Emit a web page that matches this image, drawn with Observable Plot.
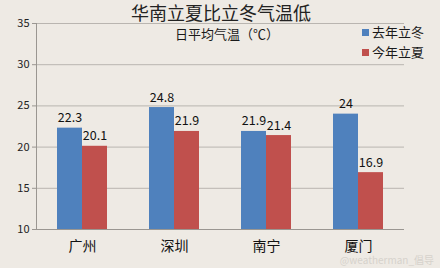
<!DOCTYPE html>
<html>
<head>
<meta charset="utf-8">
<script src="https://cdn.jsdelivr.net/npm/d3@7"></script>
<script src="https://cdn.jsdelivr.net/npm/@observablehq/plot@0.6"></script>
<style>
  html, body { margin: 0; padding: 0; background: #EEEAE4; }
  #wrap { position: relative; width: 440px; height: 268px; overflow: hidden; font-family: "Noto Sans CJK SC", "Noto Sans", sans-serif; background: #EEEAE4; }
  #wrap svg { position: absolute; left: 0; top: 0; }
  .ov { position: absolute; white-space: nowrap; color: #1a1a1a; font-weight: 400; }
  #title { left: 0; width: 440px; top: 3px; text-align: center; font-size: 18px; line-height: 19px; padding-left: 2px; box-sizing: border-box; color: #222; }
  #sub { left: 0; width: 440px; top: 27px; text-align: center; font-size: 13px; line-height: 14px; padding-left: 14px; box-sizing: border-box; }
  .lg { left: 362px; font-size: 13px; line-height: 16px; }
  .sw { display: inline-block; width: 7px; height: 7px; margin-right: 3px; vertical-align: 1px; }
  #wm { right: 6px; top: 254px; font-size: 10px; line-height: 11px; color: #d6d2cc; }
</style>
</head>
<body>
<div id="wrap"></div>
<script>
const cities = ["广州", "深圳", "南宁", "厦门"];
const series = ["去年立冬", "今年立夏"];
const lastWinter = [22.3, 24.8, 21.9, 24];
const thisSummer = [20.1, 21.9, 21.4, 16.9];
const yTicks = [10, 15, 20, 25, 30, 35];
const colors = ["#4F81BD", "#C0504D"];
const title = "华南立夏比立冬气温低";
const subtitle = "日平均气温（℃）";
const watermark = "@weatherman_倡导";

const data = [];
cities.forEach((c, i) => {
  data.push({city: c, series: series[0], value: lastWinter[i]});
  data.push({city: c, series: series[1], value: thisSummer[i]});
});

const chart = Plot.plot({
  width: 440,
  height: 268,
  marginLeft: 34,
  marginRight: 35,
  marginTop: 23,
  marginBottom: 39,
  style: {background: "#EEEAE4", fontFamily: "'Noto Sans CJK SC', sans-serif", color: "#222"},
  fx: {domain: cities, padding: 0, label: null},
  x: {domain: series, paddingInner: 0, paddingOuter: 0.78, axis: null},
  y: {domain: [10, 35], ticks: yTicks, label: null},
  color: {domain: series, range: colors},
  marks: [
    Plot.ruleY(yTicks.slice(1), {stroke: "#b9b5b0", strokeWidth: 1}),
    Plot.barY(data, {fx: "city", x: "series", y1: 10, y2: "value", fill: "series"}),
    Plot.text(data, {fx: "city", x: "series", y: "value", text: d => String(d.value), lineAnchor: "bottom", dy: -6, fontSize: 12.5, fill: "#111"}),
    Plot.ruleY([10], {stroke: "#9a9691"}),
    Plot.frame({anchor: "left", facetAnchor: "left", stroke: "#9a9691"}),
    Plot.axisY({ticks: yTicks, tickSize: 4, tickPadding: 3, fontSize: 11, label: null, stroke: "#9a9691", color: "#222"}),
    Plot.axisFx({anchor: "bottom", tickSize: 0, tickPadding: 12, fontSize: 14, label: null, color: "#111"})
  ]
});
const wrap = document.getElementById("wrap");
wrap.appendChild(chart);

function ov(id, cls, html, style) {
  const d = document.createElement("div");
  if (id) d.id = id;
  d.className = "ov " + (cls || "");
  d.innerHTML = html;
  if (style) Object.assign(d.style, style);
  wrap.appendChild(d);
}
ov("title", "", title);
ov("sub", "", subtitle);
series.forEach((s, i) => {
  ov(null, "lg", `<span class="sw" style="background:${colors[i]}"></span>${s}`, {top: (24 + i * 20) + "px"});
});
ov("wm", "", watermark);
</script>
</body>
</html>
